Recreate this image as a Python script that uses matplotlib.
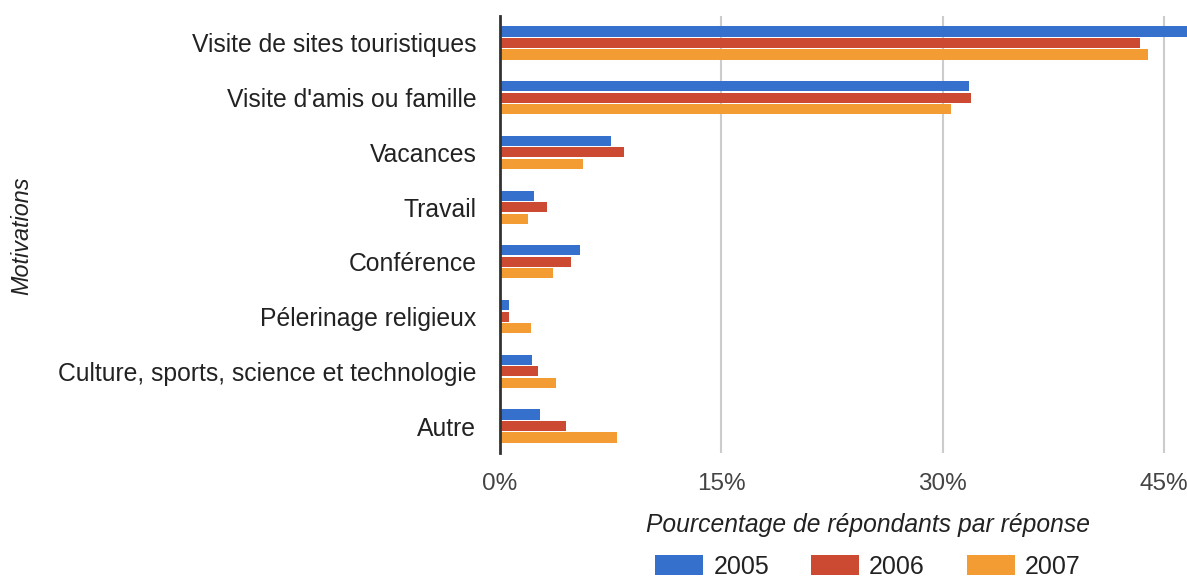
import numpy as np
import matplotlib
matplotlib.use("Agg")
import matplotlib.pyplot as plt
from matplotlib.patches import Patch

plt.rcParams['font.family'] = ['Liberation Sans', 'DejaVu Sans']

motivations = ['Visite de sites touristiques', "Visite d'amis ou famille", 'Vacances',
               'Travail', 'Conférence', 'Pélerinage religieux',
               'Culture, sports, science et technologie', 'Autre']
years = ['2005', '2006', '2007']
v2005 = [47.5, 31.8, 7.5, 2.3, 5.4, 0.6, 2.2, 2.7]
v2006 = [43.4, 31.9, 8.4, 3.2, 4.8, 0.6, 2.6, 4.5]
v2007 = [43.9, 30.6, 5.6, 1.9, 3.6, 2.1, 3.8, 7.9]
colors = ['#3570CC', '#CC4A31', '#F39C33']
xticks = [0, 15, 30, 45]

fig = plt.figure(figsize=(11.87, 5.81), dpi=100)
ax = fig.add_axes([500 / 1187, 1 - 453.4 / 581, 1 - 500 / 1187, (453.4 - 15.6) / 581])

y = np.arange(len(motivations))
h = 0.185
for i, (vals, c) in enumerate(zip([v2005, v2006, v2007], colors)):
    ax.barh(y + (i - 1) * 0.21, vals, height=h, color=c, zorder=3)

ax.set_ylim(len(motivations) - 0.5, -0.5)
ax.set_xlim(0, (1187 - 500) / 14.75)
ax.set_yticks(y)
ax.set_yticklabels(motivations, fontsize=17.8, color='#222222')
ax.set_xticks(xticks)
ax.set_xticklabels([f'{t}%' for t in xticks], fontsize=17.5, color='#444444')
ax.tick_params(axis='y', length=0, pad=17)
ax.tick_params(axis='x', length=0, pad=14)
ax.grid(axis='x', color='#cccccc', linewidth=1.5, zorder=0)
for s in ['top', 'right', 'bottom']:
    ax.spines[s].set_visible(False)
ax.spines['left'].set_color('#333333')
ax.spines['left'].set_linewidth(2)
ax.spines['left'].set_zorder(4)

fig.text(22 / 1187, 1 - 236 / 581, 'Motivations', rotation=90, style='italic',
         fontsize=16.8, color='#222222', ha='center', va='center')
fig.text(868 / 1187, 1 - 525 / 581, 'Pourcentage de répondants par réponse',
         style='italic', fontsize=17.7, color='#222222', ha='center', va='center')

handles = [Patch(facecolor=c, label=yr) for c, yr in zip(colors, years)]
fig.legend(handles=handles, loc='center', bbox_to_anchor=(868 / 1187, 1 - 567 / 581),
           ncol=3, frameon=False, fontsize=18, handlelength=1.92, handleheight=0.85,
           columnspacing=1.68, handletextpad=0.4, labelcolor='#222222',
           borderpad=0, borderaxespad=0)

fig.savefig('out.png', dpi=100)
